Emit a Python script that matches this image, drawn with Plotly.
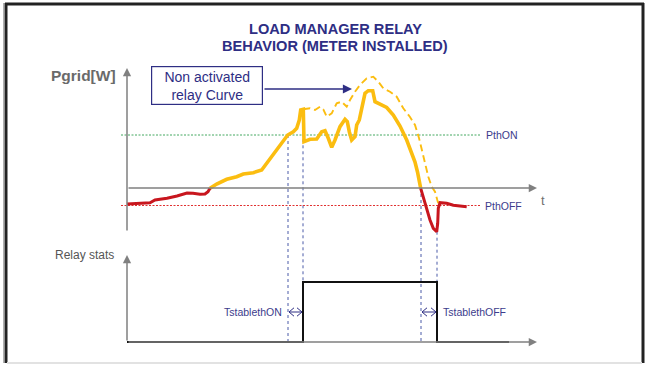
import plotly.graph_objects as go

W, H = 646, 365

# --- Power curve (t in time units, P in power units; P=0 is the grid axis) ---
pre_t = [0, 8, 23, 28, 40, 50, 60, 66, 73, 78, 81, 83]
pre_p = [-16, -15.5, -14.7, -12, -10.3, -8, -5, -5.3, -6.3, -6, -3.7, -0.3]

on_t = [83, 89.7, 99.7, 109.7, 116.3, 126.3, 134.7, 139.7, 146.3, 154.7, 160.7, 166.3,
        169.7, 172.3, 173.7, 176.3, 177, 183, 189.7, 194.7, 198, 201.3, 204.7, 208, 213,
        218, 220.3, 222.3, 224.7, 228, 229.7, 232.3, 234.7, 238, 241.3, 245.7, 248, 253,
        259.7, 266.3, 273, 279.7, 284.7, 288, 290.5, 292.3, 293.7]
on_p = [-0.3, 4, 8.7, 11.3, 14, 15.3, 18, 24.7, 33, 44.7, 53, 56.3, 59.7, 68, 78, 78.7,
        46.3, 48.7, 49, 56.3, 57.3, 49.7, 40.7, 48, 61.3, 68.7, 66.3, 56.3, 48, 51.3, 63,
        68, 78, 94.7, 97.3, 97.3, 86.3, 83.7, 80.5, 73, 62, 48, 36, 26, 16, 8, -0.3]

post_t = [293.7, 298, 303, 306.3, 309.7, 310.7, 311.3, 313, 319.7, 326.3, 333, 339.7]
post_p = [-0.3, -15.3, -32, -40.3, -43.7, -35.3, -20.3, -14.7, -15.3, -17.3, -17.7, -18.7]

# Load without relay action (dashed)
free_t = [176.3, 183, 188, 193, 196.3, 199.7, 204.7, 209.7, 214.7, 219.7, 223, 228, 233,
          239.7, 246.3, 251.3, 256.3, 263, 269.7, 276.3, 283, 288, 292, 295, 298, 301.3,
          304.7, 308, 310.3, 311.3]
free_p = [78.7, 79.7, 78, 81.3, 78.7, 71.3, 74.7, 84.7, 86.3, 81.3, 88, 96.3, 103, 109.7,
          111.3, 106.3, 99.7, 96.3, 91.3, 79.7, 71, 63, 50, 38, 24.7, 11.3, 1.3, -3.7,
          -12, -15.3]

# Thresholds
P_ON, P_OFF = 53, -17.5

# Relay timing
t_cross_on, t_on = 161, 176
t_cross_off, t_off = 294, 310
relay_t = [0, t_on, t_on, t_off, t_off, 382]
relay_s = [0, 0, 1, 1, 0, 0]

TITLE_LINES = ["LOAD MANAGER RELAY", "BEHAVIOR (METER INSTALLED)"]

NAVY = "#2e2e84"
LABEL = "#3c3c8c"
GOLD = "#fbbd10"
RED = "#c8161e"
AXIS = "#808080"
FONT = "Liberation Sans, Arial, sans-serif"

fig = go.Figure()

# threshold lines
for level, col in [(P_ON, "#45a860"), (P_OFF, "#e03030")]:
    fig.add_trace(go.Scatter(x=[-6, 354], y=[level, level], mode="lines",
                             line=dict(color=col, width=1, dash="2px,1.5px"),
                             hoverinfo="skip"))

fig.add_trace(go.Scatter(x=free_t, y=free_p, mode="lines",
                         line=dict(color=GOLD, width=1.9, dash="7px,4px"),
                         hoverinfo="skip"))
fig.add_trace(go.Scatter(x=on_t, y=on_p, mode="lines",
                         line=dict(color=GOLD, width=3.6), hoverinfo="skip"))
fig.add_trace(go.Scatter(x=pre_t, y=pre_p, mode="lines",
                         line=dict(color=RED, width=3), hoverinfo="skip"))
fig.add_trace(go.Scatter(x=post_t, y=post_p, mode="lines",
                         line=dict(color=RED, width=3), hoverinfo="skip"))

# relay state
fig.add_trace(go.Scatter(x=relay_t, y=relay_s, mode="lines", yaxis="y2",
                         line=dict(color="#111111", width=2, shape="linear"),
                         hoverinfo="skip"))

# double-headed timing arrows (open chevrons)
for a, b in [(t_cross_on, t_on), (t_cross_off, t_off)]:
    xs = [a + 6, a + 1, a + 6, None, a + 1, b - 1, None, b - 6, b - 1, b - 6]
    ys = [0.57, 0.5, 0.43, None, 0.5, 0.5, None, 0.57, 0.5, 0.43]
    fig.add_trace(go.Scatter(x=xs, y=ys, mode="lines", yaxis="y2",
                             line=dict(color=NAVY, width=1), hoverinfo="skip"))

shapes = []
# vertical timing markers (from the curve down to the relay baseline)
def py_of_p(p):
    return 188 - p

def paper_y(py):
    return 1 - py / H

for t, p_top in [(t_cross_on, P_ON), (t_on, 78.7), (t_cross_off, 0), (t_off, -43.7)]:
    shapes.append(dict(type="line", xref="x", yref="paper", x0=t, x1=t,
                       y0=paper_y(py_of_p(p_top)), y1=paper_y(342),
                       line=dict(color="#4a5aa8", width=1, dash="dot"), layer="below"))

# page frame
shapes += [
    dict(type="line", xref="paper", yref="paper", x0=3.5 / W, x1=3.5 / W, y0=1 - 3 / H, y1=1 - 363 / H,
         line=dict(color="#b0b0b0", width=1)),
    dict(type="line", xref="paper", yref="paper", x0=6 / W, x1=6 / W, y0=1 - 3 / H, y1=1 - 363 / H,
         line=dict(color="#222222", width=3)),
    dict(type="line", xref="paper", yref="paper", x0=5 / W, x1=644 / W, y0=1 - 4 / H, y1=1 - 4 / H,
         line=dict(color="#222222", width=3)),
    dict(type="line", xref="paper", yref="paper", x0=643 / W, x1=643 / W, y0=1 - 3 / H, y1=1 - 363 / H,
         line=dict(color="#222222", width=3)),
    dict(type="line", xref="paper", yref="paper", x0=7 / W, x1=642 / W, y0=1 - 363 / H, y1=1 - 363 / H,
         line=dict(color="#e2e2e2", width=2)),
]

ann = []
# axes with arrowheads
def axis_arrow(x0, y0, x1, y1, yref="y"):
    return dict(x=x1, y=y1, ax=x0, ay=y0, xref="x", yref=yref, axref="x", ayref=yref,
                text="", showarrow=True, arrowhead=2, arrowsize=1.1, arrowwidth=1.5,
                arrowcolor=AXIS)

ann.append(axis_arrow(0, -44, 0, 120))
ann.append(axis_arrow(0, 0, 410, 0))
ann.append(axis_arrow(0, 0, 0, 1.45, "y2"))
ann.append(axis_arrow(0, 0, 410, 0, "y2"))

for text, py in zip(TITLE_LINES, [29.2, 45.8]):
    ann.append(dict(xref="paper", yref="paper", x=335 / W, y=1 - py / H,
                    xanchor="center", yanchor="middle",
                    text="<b>%s</b>" % text, showarrow=False,
                    font=dict(family=FONT, size=14.6, color=NAVY)))
ann.append(dict(xref="x", yref="y", x=-9, y=113, text="<b>Pgrid[W]</b>", xanchor="right",
                showarrow=False, font=dict(family=FONT, size=15.5, color="#6a6a6a")))
ann.append(dict(xref="x", yref="y", x=412, y=-12, text="t", xanchor="left",
                showarrow=False, font=dict(family=FONT, size=13, color="#707070")))
ann.append(dict(xref="x", yref="y", x=357, y=P_ON, text="PthON", xanchor="left",
                showarrow=False, font=dict(family=FONT, size=10.5, color=LABEL)))
ann.append(dict(xref="x", yref="y", x=356, y=P_OFF, text="PthOFF", xanchor="left",
                showarrow=False, font=dict(family=FONT, size=10.5, color=LABEL)))
ann.append(dict(xref="x", yref="y2", x=-11, y=1.45, text="Relay stats", xanchor="right",
                showarrow=False, font=dict(family=FONT, size=12, color="#555555")))
ann.append(dict(xref="x", yref="y2", x=t_cross_on - 4, y=0.5, text="TstablethON",
                xanchor="right", showarrow=False,
                font=dict(family=FONT, size=10.5, color=LABEL)))
ann.append(dict(xref="x", yref="y2", x=t_off + 4, y=0.5, text="TstablethOFF",
                xanchor="left", showarrow=False,
                font=dict(family=FONT, size=10.5, color=LABEL)))
# callout box and pointer
ann.append(dict(xref="x", yref="y", x=80, y=103, text="Non activated<br>relay Curve",
                showarrow=False, width=108, height=35, borderpad=1, borderwidth=1.2,
                bordercolor=NAVY, bgcolor="white", align="center",
                font=dict(family=FONT, size=14, color=NAVY)))
ann.append(dict(xref="x", yref="y", axref="x", ayref="y", x=225, y=99, ax=136, ay=99,
                text="", showarrow=True, arrowhead=2, arrowsize=1.4, arrowwidth=1.3,
                arrowcolor=NAVY))

fig.update_layout(
    width=W, height=H, margin=dict(l=0, r=0, t=0, b=0), autosize=False,
    paper_bgcolor="white", plot_bgcolor="white", showlegend=False,
    xaxis=dict(range=[-127, W - 127], visible=False, fixedrange=True),
    yaxis=dict(range=[188 - H, 188], visible=False, fixedrange=True),
    yaxis2=dict(range=[-(H - 342) / 60, 342 / 60], visible=False, overlaying="y",
                fixedrange=True),
    shapes=shapes, annotations=ann,
)

fig.write_html("out.html", config={"displayModeBar": False})
